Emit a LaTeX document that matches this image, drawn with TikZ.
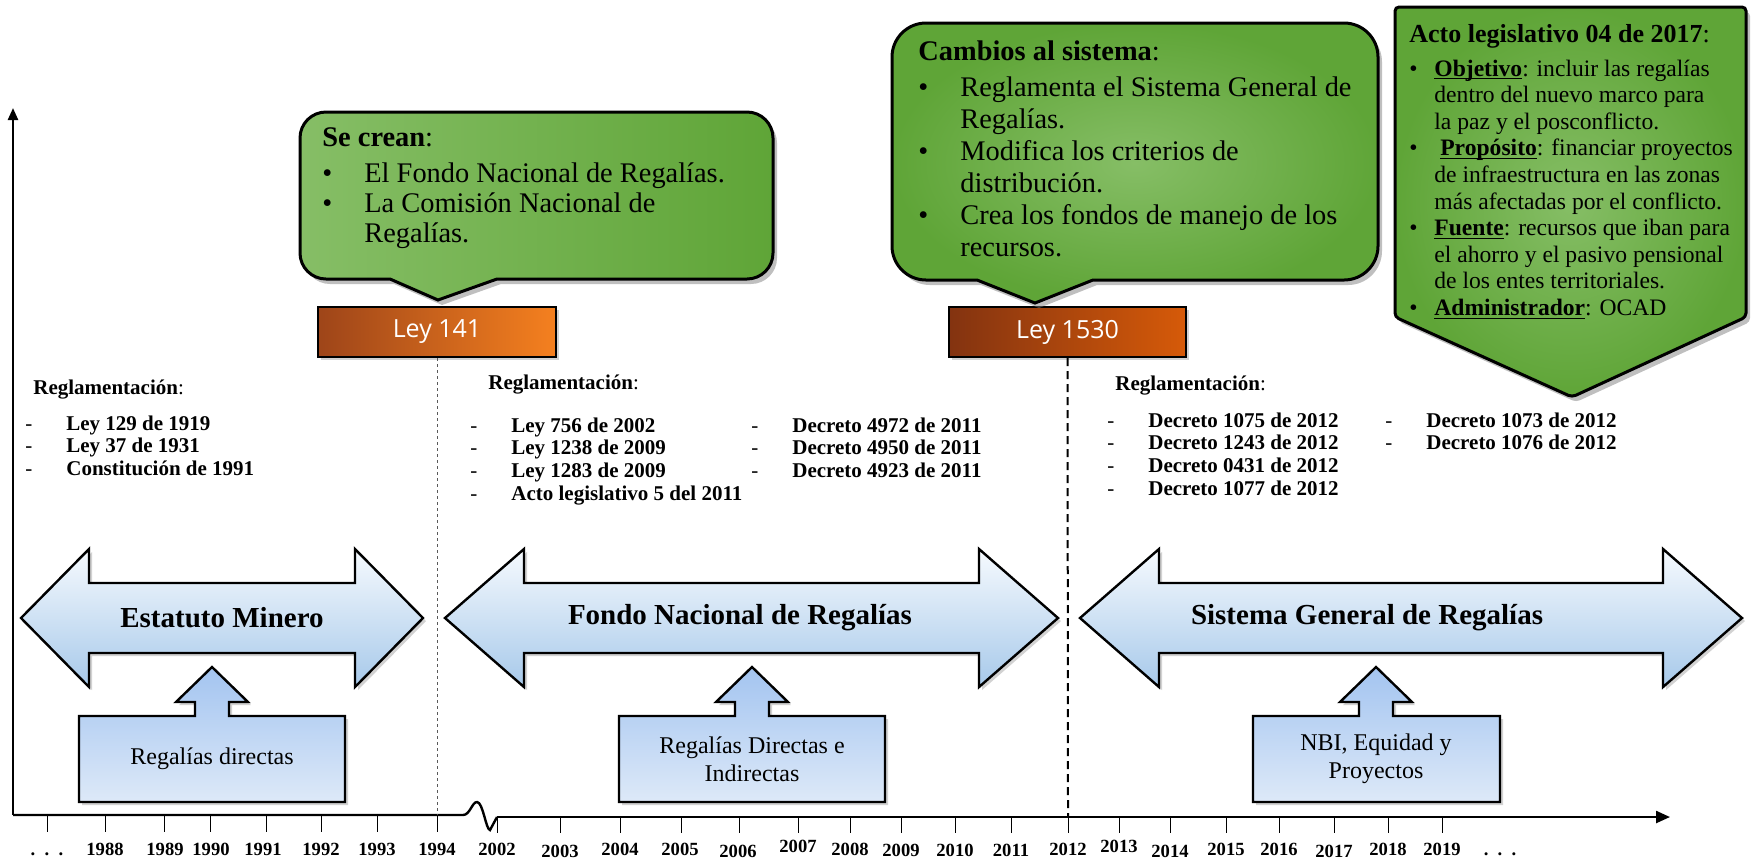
\documentclass[tikz,border=0pt]{standalone}
\usepackage{fontspec}
\setmainfont{Liberation Serif}
\newfontfamily\leyfont{Open Sans}
\usetikzlibrary{shadows, arrows.meta}

\definecolor{verdeA}{HTML}{86BE66}
\definecolor{verdeB}{HTML}{5FA537}
\definecolor{azulA}{HTML}{F6FAFE}
\definecolor{azulB}{HTML}{A7C9EA}
\definecolor{cajaA}{HTML}{A3C4F0}
\definecolor{cajaB}{HTML}{DDE9F8}
\definecolor{leyA}{HTML}{9E4519}
\definecolor{leyB}{HTML}{F5801F}
\definecolor{leyC}{HTML}{833310}
\definecolor{leyD}{HTML}{D65A09}

\newcommand{\guion}{\makebox[20.5pt][l]{\mdseries-}}
\newcommand{\punto}[1][21pt]{\makebox[#1][l]{\textbullet}}
\newcommand{\subr}[1]{\underline{\smash{\textbf{#1}}}}

\tikzset{
  globo/.style={draw=black, line width=1.5pt, drop shadow={opacity=0.5, shadow xshift=2pt, shadow yshift=-2.5pt}},
  textoglobo/.style={anchor=north west, inner sep=0, align=left, font=\fontsize{14.2}{15}\selectfont},
  ley/.style={draw=black, line width=1pt, minimum width=119pt, minimum height=25pt, inner sep=0,
    text=white, font=\leyfont\fontsize{12.5}{14}\selectfont, drop shadow={opacity=0.35, shadow xshift=1.5pt, shadow yshift=-1.5pt}},
  flechona/.style={draw=black, line width=1.2pt, top color=azulA, bottom color=azulB,
    drop shadow={opacity=0.35, shadow xshift=1.5pt, shadow yshift=-1.5pt}},
  flechatxt/.style={font=\bfseries\fontsize{14.5}{16}\selectfont},
  caja/.style={draw=black, line width=1.2pt, top color=cajaA, bottom color=cajaB,
    drop shadow={opacity=0.35, shadow xshift=1.5pt, shadow yshift=-1.5pt}},
  cajatxt/.style={align=center, font=\fontsize{12}{14}\selectfont},
  regla/.style={anchor=base west, inner sep=0, font=\bfseries\fontsize{10.5}{11}\selectfont},
  eje/.style={line width=1.2pt},
  marca/.style={line width=0.5pt},
  anio/.style={anchor=base, inner sep=0, font=\bfseries\fontsize{9.3}{10}\selectfont}
}

% flecha doble: punta izq, punta der, largo de la cabeza
\newcommand{\flecha}[3]{%
  \path[flechona] (#1,-618) -- (#1+#3,-549) -- (#1+#3,-583) -- (#2-#3,-583) -- (#2-#3,-549) -- (#2,-618)
    -- (#2-#3,-687) -- (#2-#3,-653) -- (#1+#3,-653) -- (#1+#3,-687) -- cycle;}
% caja con flecha hacia arriba: centro, izq, der
\newcommand{\cajita}[3]{%
  \path[caja] (#2,-802) -- (#2,-716) -- (#1-17,-716) -- (#1-17,-702) -- (#1-36,-702) -- (#1,-667)
    -- (#1+36,-702) -- (#1+17,-702) -- (#1+17,-716) -- (#3,-716) -- (#3,-802) -- cycle;}

\begin{document}
\begin{tikzpicture}[x=0.5pt, y=0.5pt]
\useasboundingbox (0,0) rectangle (1759,-859);
\fill[white] (0,0) rectangle (1759,-859);

% ejes
\draw[eje, -{Triangle[length=6pt, width=5pt]}] (13,-815) -- (13,-108);
\draw[eje] (13,-815) -- (463,-815) .. controls (470,-815) and (472,-802) .. (477,-802)
  .. controls (483,-802) and (486,-830) .. (490,-830) -- (497,-817);
\draw[eje, -{Triangle[length=7pt, width=6pt]}] (497,-817) -- (1670,-817);

\foreach \x in {47,105,164,210,266,321,377,437}
  \draw[marca] (\x,-815) -- (\x,-832);
\foreach \x in {497,560,620,681,739,798,850,901,955,1011,1068,1119,1170,1226,1279,1334,1388,1442}
  \draw[marca] (\x,-817) -- (\x,-833);

\foreach \x/\a/\d in {47/{.\ \ .\ \ .}/0, 105/1988/0, 165/1989/0, 211/1990/0, 263/1991/0, 321/1992/0,
    377/1993/0, 437/1994/0, 497/2002/0, 560/2003/2, 620/2004/0, 680/2005/0, 738/2006/2, 798/2007/-3,
    850/2008/0, 901/2009/1, 955/2010/1, 1011/2011/1, 1068/2012/0, 1119/2013/-3, 1170/2014/2,
    1226/2015/0, 1279/2016/0, 1334/2017/2, 1388/2018/0, 1442/2019/0, 1500/{.\ \ .\ \ .}/0}
  \node[anio] (t\x) at (\x,-855-\d) {\a};

\coordinate (c1994) at (437,-815);
\coordinate (c2012) at (1068,-817);

% leyes
\node[ley, left color=leyA, right color=leyB] (ley141) at (437,-332) {Ley 141};
\node[ley, left color=leyC, right color=leyD, minimum width=118.5pt] (ley1530) at (1067.5,-332) {Ley 1530};
\draw[line width=0.4pt, gray!70!black, dash pattern=on 1.5pt off 1.5pt] (ley141.south) -- (c1994);
\draw[line width=1pt, dash pattern=on 4pt off 2.5pt] (ley1530.south) -- (c2012);

% globos
\path[globo, left color=verdeA, right color=verdeB] (326,-112) -- (747,-112)
  arc[start angle=90, end angle=0, radius=26] -- (773,-253)
  arc[start angle=0, end angle=-90, radius=26] -- (497,-279) -- (438,-300) -- (390,-279) -- (326,-279)
  arc[start angle=270, end angle=180, radius=26] -- (300,-138)
  arc[start angle=180, end angle=90, radius=26] -- cycle;
\node[textoglobo] (secrean) at (322,-127) {\textbf{Se crean}:\\[3pt]
  \punto El Fondo Nacional de Regalías.\\
  \punto La Comisión Nacional de\\
  \hspace*{21pt}Regalías.};

\path[globo, inner color=verdeA, outer color=verdeB] (926,-23) -- (1344,-23)
  arc[start angle=90, end angle=0, radius=34] -- (1378,-246)
  arc[start angle=0, end angle=-90, radius=34] -- (1093,-280) -- (1035,-303) -- (977,-280) -- (926,-280)
  arc[start angle=270, end angle=180, radius=34] -- (892,-57)
  arc[start angle=180, end angle=90, radius=34] -- cycle;
\node[textoglobo, font=\fontsize{14.2}{16}\selectfont] (cambios) at (918,-40) {\textbf{Cambios al sistema}:\\[2pt]
  \punto Reglamenta el Sistema General de\\
  \hspace*{21pt}Regalías.\\
  \punto Modifica los criterios de\\
  \hspace*{21pt}distribución.\\
  \punto Crea los fondos de manejo de los\\
  \hspace*{21pt}recursos.};

\path[globo, inner color=verdeA, outer color=verdeB, rounded corners=2pt]
  (1395,-7) -- (1746,-7) -- (1746,-317) -- (1572,-397) -- (1395,-317) -- cycle;
\node[textoglobo, font=\fontsize{11.8}{13.3}\selectfont] (acto) at (1409,-24) {%
  {\fontsize{13}{13.3}\selectfont\textbf{Acto legislativo 04 de 2017}:}\\[3.5pt]
  \punto[12.5pt]\subr{Objetivo}: incluir las regalías\\
  \hspace*{12.5pt}dentro del nuevo marco para\\
  \hspace*{12.5pt}la paz y el posconflicto.\\
  \punto[12.5pt]\ \subr{Propósito}: financiar proyectos\\
  \hspace*{12.5pt}de infraestructura en las zonas\\
  \hspace*{12.5pt}más afectadas por el conflicto.\\
  \punto[12.5pt]\subr{Fuente}: recursos que iban para\\
  \hspace*{12.5pt}el ahorro y el pasivo pensional\\
  \hspace*{12.5pt}de los entes territoriales.\\
  \punto[12.5pt]\subr{Administrador}: OCAD};

% reglamentaciones
\node[regla] (regl1) at (33,-394) {Reglamentación{\mdseries:}};
\foreach \t [count=\n] in {Ley 129 de 1919, Ley 37 de 1931, Constitución de 1991}
  \node[regla] (ra\n) at (25,-407.5-22.5*\n) {\guion\t};

\node[regla] (regl2) at (488,-389) {Reglamentación{\mdseries:}};
\foreach \t [count=\n] in {Ley 756 de 2002, Ley 1238 de 2009, Ley 1283 de 2009, Acto legislativo 5 del 2011}
  \node[regla] (rb\n) at (470,-409.3-22.7*\n) {\guion\t};
\foreach \t [count=\n] in {Decreto 4972 de 2011, Decreto 4950 de 2011, Decreto 4923 de 2011}
  \node[regla] (rc\n) at (751,-409.3-22.7*\n) {\guion\t};

\node[regla] (regl3) at (1115,-390) {Reglamentación{\mdseries:}};
\foreach \t [count=\n] in {Decreto 1075 de 2012, Decreto 1243 de 2012, Decreto 0431 de 2012, Decreto 1077 de 2012}
  \node[regla] (rd\n) at (1107,-404.3-22.7*\n) {\guion\t};
\foreach \t [count=\n] in {Decreto 1073 de 2012, Decreto 1076 de 2012}
  \node[regla] (re\n) at (1385,-404.3-22.7*\n) {\guion\t};

% periodos
\flecha{21}{423}{68}
\flecha{445}{1058}{79}
\flecha{1080}{1742}{79}
\node[flechatxt] (estatuto) at (222,-618) {Estatuto Minero};
\node[flechatxt] (fondo) at (740,-618) {Fondo Nacional de Regalías};
\node[flechatxt] (sistema) at (1367,-618) {Sistema General de Regalías};

\cajita{212}{79}{345}
\cajita{752}{619}{885}
\cajita{1376}{1253}{1500}
\node[cajatxt] (directas) at (212,-759) {Regalías directas};
\node[cajatxt] (indirectas) at (752,-759) {Regalías Directas e\\Indirectas};
\node[cajatxt] (nbi) at (1376,-759) {NBI, Equidad y\\Proyectos};
\end{tikzpicture}
\end{document}
